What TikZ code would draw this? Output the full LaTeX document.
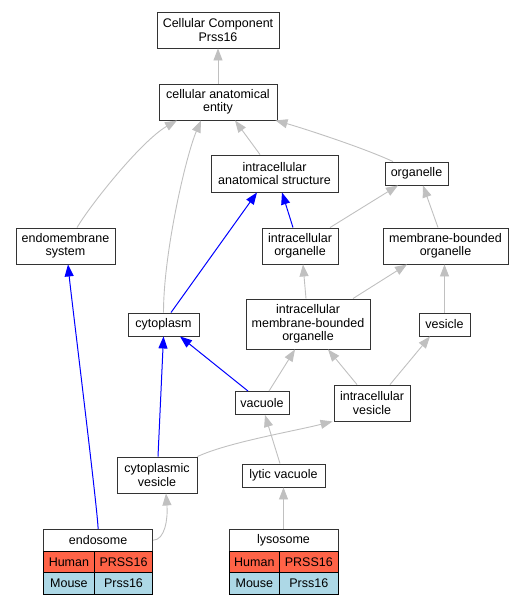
\documentclass[tikz,border=0pt]{standalone}
\usepackage{fontspec}
\setmainfont{Liberation Sans}
\usetikzlibrary{arrows.meta}
\definecolor{humanred}{HTML}{FF6347}
\definecolor{mouseblue}{HTML}{ADD8E6}
\definecolor{edgegray}{HTML}{C0C0C0}
\definecolor{boxline}{HTML}{333333}
\begin{document}
\begin{tikzpicture}[x=1pt,y=-1pt,
  box/.style={draw=boxline, line width=0.9pt, fill=white, inner sep=0pt, align=center,
    font=\fontsize{12.5}{13.4}\selectfont},
  cell/.style={draw=black, line width=0.9pt, inner sep=0pt, align=center,
    minimum height=21.7pt, font=\fontsize{12.5}{13.4}\selectfont},
  gedge/.style={draw=edgegray, line width=0.9pt, -{Triangle[length=12pt,width=9pt]}},
  bedge/.style={draw=blue, line width=1pt, -{Triangle[length=12pt,width=9pt]}},
]
\useasboundingbox (0,0) rectangle (523,605);

% nodes
\node[box, minimum width=122pt, minimum height=36pt] (cc) at (218,30) {Cellular Component\\Prss16};
\node[box, minimum width=118pt, minimum height=36pt] (cae) at (218,102) {cellular anatomical\\entity};
\node[box, minimum width=127pt, minimum height=37pt] (ias) at (274.5,173.5) {intracellular\\anatomical structure};
\node[box, minimum width=63pt, minimum height=23pt] (org) at (416.5,173.5) {organelle};
\node[box, minimum width=99pt, minimum height=36pt] (ems) at (65.5,246) {endomembrane\\system};
\node[box, minimum width=76pt, minimum height=36pt] (io) at (300,246) {intracellular\\organelle};
\node[box, minimum width=125pt, minimum height=36pt] (mbo) at (445.5,246) {membrane-bounded\\organelle};
\node[box, minimum width=71pt, minimum height=23pt] (cyto) at (163.5,324.5) {cytoplasm};
\node[box, minimum width=124pt, minimum height=50pt] (imbo) at (308,324) {intracellular\\membrane-bounded\\organelle};
\node[box, minimum width=51pt, minimum height=23pt] (ves) at (444.5,324.5) {vesicle};
\node[box, minimum width=54pt, minimum height=23pt] (vac) at (262,403) {vacuole};
\node[box, minimum width=76pt, minimum height=36pt] (iv) at (372,403) {intracellular\\vesicle};
\node[box, minimum width=80pt, minimum height=36pt] (cv) at (157,475) {cytoplasmic\\vesicle};
\node[box, minimum width=83pt, minimum height=23pt] (lv) at (283.5,475.5) {lytic vacuole};

% endosome table
\node[box, minimum width=109pt, minimum height=21.7pt] (endo) at (98.1,540.2) {endosome};
\node[cell, fill=humanred, minimum width=50.8pt] (endoh) at (68.9,561.9) {Human};
\node[cell, fill=humanred, minimum width=58.4pt] (endohg) at (123.5,561.9) {PRSS16};
\node[cell, fill=mouseblue, minimum width=50.8pt] (endom) at (68.9,583.6) {Mouse};
\node[cell, fill=mouseblue, minimum width=58.4pt] (endomg) at (123.5,583.6) {Prss16};

% lysosome table
\node[box, minimum width=109pt, minimum height=21.7pt] (lyso) at (283.5,540.2) {lysosome};
\node[cell, fill=humanred, minimum width=50.7pt] (lysoh) at (254.35,561.9) {Human};
\node[cell, fill=humanred, minimum width=58.3pt] (lysohg) at (308.85,561.9) {PRSS16};
\node[cell, fill=mouseblue, minimum width=50.7pt] (lysom) at (254.35,583.6) {Mouse};
\node[cell, fill=mouseblue, minimum width=58.3pt] (lysomg) at (308.85,583.6) {Prss16};

% edges
\draw[gedge] (cae.north) -- (cc.south);
\draw[gedge] ([xshift=-14.5pt]ias.north) -- ([xshift=17pt]cae.south);
\draw[gedge] ([xshift=-23.5pt]org.north) .. controls +(-30,-14) and +(25,7) .. ([xshift=-2pt]cae.south east);
\draw[gedge] ([xshift=11.5pt]ems.north) .. controls +(15,-25) and +(-35,20) .. ([xshift=-41pt]cae.south);
\draw[gedge] (cyto.north) .. controls +(0,-60) and +(-15,35) .. ([xshift=-17pt]cae.south);
\draw[bedge] ([xshift=-7pt]io.north) -- ([xshift=7.5pt]ias.south);
\draw[bedge] ([xshift=7.5pt]cyto.north) -- ([xshift=-17.5pt]ias.south);
\draw[gedge] ([xshift=30pt]io.north) -- ([xshift=-18.5pt]org.south);
\draw[gedge] ([xshift=-7.5pt]mbo.north) -- ([xshift=6.5pt]org.south);
\draw[gedge] ([xshift=-2pt]imbo.north) -- ([xshift=3pt]io.south);
\draw[gedge] ([xshift=45pt]imbo.north) -- ([xshift=-38.5pt]mbo.south);
\draw[gedge] (ves.north) -- (ves.north |- mbo.south);
\draw[bedge] ([xshift=-14pt]vac.north) -- ([xshift=16.5pt]cyto.south);
\draw[gedge] ([xshift=7pt]vac.north) -- ([xshift=-13pt]imbo.south);
\draw[gedge] ([xshift=-15pt]iv.north) -- ([xshift=20pt]imbo.south);
\draw[gedge] ([xshift=18pt]iv.north) -- ([xshift=-14.5pt]ves.south);
\draw[bedge] (endo.north) .. controls +(0,-15) and +(3,30) .. ([xshift=2.5pt]ems.south);
\draw[bedge] ([xshift=1pt]cv.north) -- (cyto.south);
\draw[gedge] (cv.north east) .. controls +(30,-14) and +(-40,10) .. ([xshift=-1pt]iv.south west);
\draw[gedge] ([xshift=-3.5pt]lv.north) -- ([xshift=3pt]vac.south);
\draw[gedge] (lyso.north) -- (lv.south);
\draw[gedge] (endo.east) .. controls +(12,0) and +(2,25) .. ([xshift=9pt]cv.south);
\end{tikzpicture}
\end{document}
